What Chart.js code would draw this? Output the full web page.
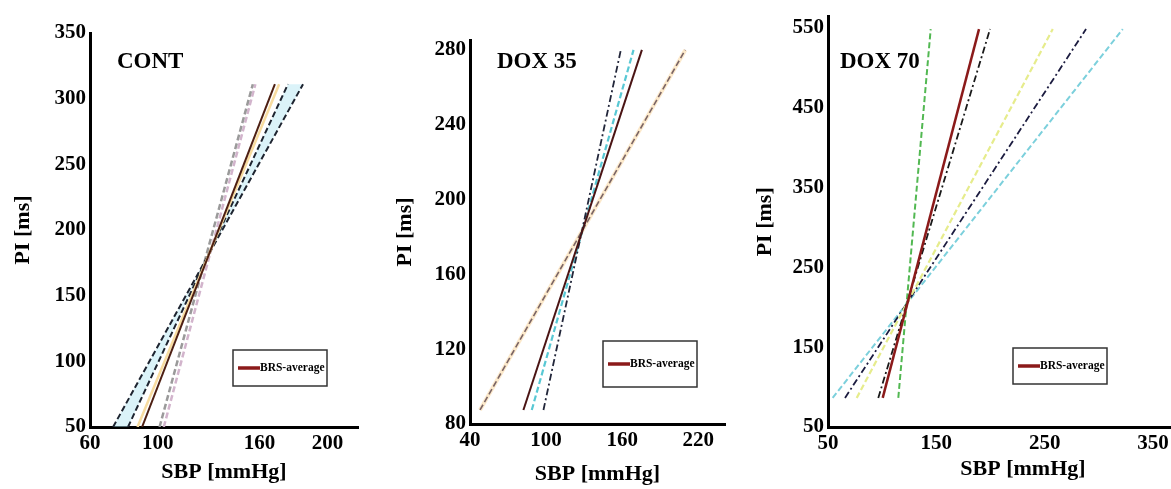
<!DOCTYPE html>
<html><head><meta charset="utf-8">
<script src="https://cdn.jsdelivr.net/npm/chart.js@4.4.1/dist/chart.umd.min.js"></script>
<style>
html,body{margin:0;padding:0;background:#fff;overflow:hidden;width:1171px;height:489px;position:relative;}
canvas{position:absolute;top:0;}
</style></head><body>
<canvas id="c1" width="380" height="489" style="left:0px;width:380px;height:489px"></canvas>
<canvas id="c2" width="380" height="489" style="left:380px;width:380px;height:489px"></canvas>
<canvas id="c3" width="480" height="489" style="left:750px;width:480px;height:489px"></canvas>
<script>
// ---------- DATA ----------
// CONT panel: regression lines, SBP at the bottom / top end, PI ends
const contTitle = 'CONT';
const contPI = [50, 311];
const contGrayA = [101, 156];
const contGrayB = [103.5, 157.5];
const contAvg = [90.7, 169];
const contYellow = [88, 171.5];
const contDash = [82.4, 176.7];
const contOuter = [73.6, 185.6];
const contXTicks = [60, 100, 160, 200];
const contYTicks = [50, 100, 150, 200, 250, 300, 350];

// DOX 35 panel
const dox35Title = 'DOX 35';
const dox35PI = [87.5, 280];
const dox35Orange = [47.9, 209.7];
const dox35Avg = [82.1, 175.5];
const dox35Cyan = [88.7, 168.9];
const dox35Dark = [97.9, 158.9];
const dox35XTicks = [40, 100, 160, 220];
const dox35YTicks = [80, 120, 160, 200, 240, 280];

// DOX 70 panel
const dox70Title = 'DOX 70';
const dox70PI = [86.4, 548];
const dox70Green = [114.9, 144.8];
const dox70Avg = [100.5, 189.4];
const dox70Black = [96.4, 199.6];
const dox70Yellow = [76.5, 257.5];
const dox70Navy = [65.7, 288.2];
const dox70Cyan = [54.3, 322.1];
const dox70XTicks = [50, 150, 250, 350];
const dox70YTicks = [50, 150, 250, 350, 450, 550];

const avgLabel = 'BRS-average';
const xTitle = 'SBP [mmHg]';
const yTitle = 'PI [ms]';

// ---------- HELPERS ----------
const FONT = "'Liberation Serif','Times New Roman',serif";

function pts(sbp, pi) { return sbp.map((x, i) => ({x: x, y: pi[i]})); }
function line(label, sbp, pi, color, width, dash) {
  return {label: label, data: pts(sbp, pi), borderColor: color, borderWidth: width,
    borderDash: dash || [], pointRadius: 0, fill: false, tension: 0};
}
function band(a, b, pi, color) {
  return {label: 'band', data: [
      {x: a[0], y: pi[0]}, {x: b[0], y: pi[0]}, {x: b[1], y: pi[1]}, {x: a[1], y: pi[1]}, {x: a[0], y: pi[0]}],
    borderColor: 'rgba(0,0,0,0)', borderWidth: 0, backgroundColor: color, fill: 'shape', pointRadius: 0, tension: 0};
}
function axis(min, max, ticks, title, size, titlePad, horizontal) {
  return {
    type: 'linear', min: min, max: max,
    afterBuildTicks: s => { s.ticks = ticks.map(v => ({value: v})); },
    afterFit: s => { if (horizontal) s.height = size; else s.width = size; },
    grid: {display: false, drawTicks: false},
    border: {display: true, color: '#000', width: 3},
    ticks: {color: '#000', font: {family: FONT, size: 21, weight: 'bold'},
      padding: 4, autoSkip: false, maxRotation: 0},
    title: {display: true, text: title, color: '#000',
      font: {family: FONT, size: 22, weight: 'bold'}, padding: titlePad}
  };
}

const decor = {
  id: 'decor',
  afterDraw(chart, args, o) {
    const ctx = chart.ctx;
    ctx.save();
    ctx.fillStyle = '#000';
    ctx.font = 'bold 23px ' + FONT;
    ctx.textBaseline = 'middle';
    ctx.textAlign = 'left';
    ctx.fillText(o.title, o.tx, o.ty);
    // legend box
    const L = o.legend;
    ctx.fillStyle = '#fff';
    ctx.fillRect(L.x, L.y, L.w, L.h);
    ctx.strokeStyle = '#333';
    ctx.lineWidth = 1.5;
    ctx.strokeRect(L.x, L.y, L.w, L.h);
    const ds = chart.data.datasets.find(d => d.label === avgLabel);
    const my = L.y + L.h / 2;
    ctx.strokeStyle = o.legendColor;
    ctx.lineWidth = 3.5;
    ctx.beginPath();
    ctx.moveTo(L.x + 5, my);
    ctx.lineTo(L.x + 27, my);
    ctx.stroke();
    ctx.fillStyle = '#000';
    ctx.font = 'bold 11.5px ' + FONT;
    ctx.fillText(ds.label, L.x + 27, my);
    ctx.restore();
  }
};

function makeChart(id, datasets, xs, ys, pad, deco) {
  return new Chart(document.getElementById(id), {
    type: 'line',
    data: {datasets: datasets},
    options: {
      responsive: false, maintainAspectRatio: false, animation: false,
      devicePixelRatio: 1,
      layout: {padding: pad},
      scales: {x: xs, y: ys},
      plugins: {legend: {display: false}, tooltip: {enabled: false}, decor: deco}
    },
    plugins: [decor]
  });
}

const dash = [6, 3];
const dashDot = [7, 3, 2, 3];
const legendRed = '#8b1a1a';

// ---------- CONT ----------
makeChart('c1', [
  line(avgLabel, contAvg, contPI, '#4d1f12', 2),
  line('yellow', contYellow, contPI, '#f8dca0', 2.5),
  line('dash', contDash, contPI, '#1e2430', 2, dash),
  line('outer', contOuter, contPI, '#1e2430', 2, dash),
  line('grayA', contGrayA, contPI, '#9a9a9a', 2.5, dash),
  line('grayB', contGrayB, contPI, '#d2b4cc', 2.5, dash),
  band(contOuter, contDash, contPI, 'rgba(175,228,242,0.45)')
],
  axis(60, 218, contXTicks, xTitle, 62, {top: 0, bottom: 3}, true),
  axis(50, 350, contYTicks, yTitle, 90, {top: 10, bottom: 0}, false),
  {left: 0, right: 22, top: 33, bottom: 0},
  {title: contTitle, tx: 117, ty: 62, legendColor: legendRed, legend: {x: 233, y: 350, w: 94, h: 36}}
);

// ---------- DOX 35 ----------
makeChart('c2', [
  line(avgLabel, dox35Avg, dox35PI, '#4a1414', 2),
  line('dark', dox35Dark, dox35PI, '#22263a', 1.8, dashDot),
  line('cyan', dox35Cyan, dox35PI, '#58c8d4', 2.2, dash),
  line('orange', dox35Orange, dox35PI, '#7a6464', 1.6, dash),
  line('orangeHalo', dox35Orange, dox35PI, 'rgba(250,215,160,0.55)', 4)
],
  axis(40, 241, dox35XTicks, xTitle, 65, {top: 0, bottom: 1}, true),
  axis(80, 285.3, dox35YTicks, yTitle, 90, {top: 12, bottom: 0}, false),
  {left: 0, right: 35, top: 40, bottom: 0},
  {title: dox35Title, tx: 117, ty: 62, legendColor: legendRed, legend: {x: 223, y: 341, w: 94, h: 46}}
);

// ---------- DOX 70 ----------
makeChart('c3', [
  line(avgLabel, dox70Avg, dox70PI, '#8b1a1a', 2.5),
  line('black', dox70Black, dox70PI, '#1a1a1a', 1.8, dashDot),
  line('green', dox70Green, dox70PI, '#52b852', 2, dash),
  line('yellow', dox70Yellow, dox70PI, '#e6ec8c', 2.2, dash),
  line('navy', dox70Navy, dox70PI, '#1c1c40', 1.8, dashDot),
  line('cyan', dox70Cyan, dox70PI, '#7cd0dc', 2, dash)
],
  axis(50, 410, dox70XTicks, xTitle, 62, {top: 0, bottom: 6}, true),
  axis(50, 563.6, dox70YTicks, yTitle, 78, {top: 2, bottom: 0}, false),
  {left: 0, right: 12, top: 12, bottom: 0},
  {title: dox70Title, tx: 90, ty: 62, legendColor: legendRed, legend: {x: 263, y: 348, w: 94, h: 36}}
);
</script>
</body></html>
